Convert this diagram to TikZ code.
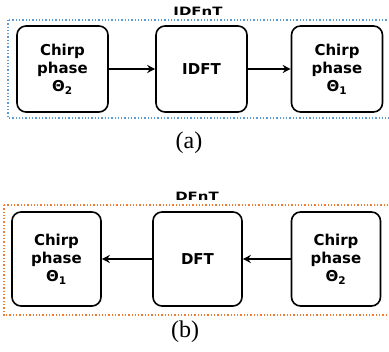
\documentclass[tikz,border=0pt]{standalone}
\usepackage{fontspec}
\usepackage{graphicx}
\setmainfont{Liberation Serif}
\newfontfamily\boxfont{DejaVu Sans}
\usetikzlibrary{arrows.meta}
\tikzset{
  block/.style={draw, line width=1.6pt, rounded corners=9pt, align=center,
    font=\boxfont\bfseries\fontsize{15}{18}\selectfont, inner sep=0pt},
  flow/.style={line width=1.5pt, -{Stealth[length=8pt,width=8pt]}},
  frame/.style={line width=1.3pt, dotted},
  title/.style={font=\boxfont\bfseries\fontsize{11.5}{14}\selectfont},
  caption/.style={font=\fontsize{24}{28}\selectfont},
}
\definecolor{frameblue}{RGB}{91,155,213}
\definecolor{frameorange}{RGB}{237,125,49}
\begin{document}
\begin{tikzpicture}[x=1pt,y=-1pt]
            \useasboundingbox (0,0) rectangle (389,352);

            % (a) IDFnT
            \draw[frame, frameblue] (8,20) rectangle (393,118);
            \node[title] (tA) at (198,11) {\scalebox{1.3}[1]{IDFnT}};
            \begin{scope}[every node/.style={block, minimum width=91pt, minimum height=86pt}]

                \node (a1) at (62.5,69) {Chirp\\phase\\Θ\textsubscript{2}};
                \node (a2) at (201.5,69) {IDFT};
                \node (a3) at (337,69) {Chirp\\phase\\Θ\textsubscript{1}};

            \end{scope}
            \draw[flow] (a1) -- (a2);
            \draw[flow] (a2) -- (a3);
            \node[caption] (capA) at (189,143) {(a)};

            % (b) DFnT
            \draw[frame, frameorange] (4,205) rectangle (393,315);
            \node[title] (tB) at (197,196) {\scalebox{1.3}[1]{DFnT}};
            \begin{scope}[every node/.style={block, minimum width=89pt, minimum height=94pt}]

                \node (b1) at (56.5,259) {Chirp\\phase\\Θ\textsubscript{1}};
                \node (b2) at (197.5,259) {DFT};
                \node (b3) at (336,259) {Chirp\\phase\\Θ\textsubscript{2}};

            \end{scope}
            \draw[flow] (b2) -- (b1);
            \draw[flow] (b3) -- (b2);
            \node[caption] (capB) at (185,332) {(b)};
        \end{tikzpicture}
\end{document}
